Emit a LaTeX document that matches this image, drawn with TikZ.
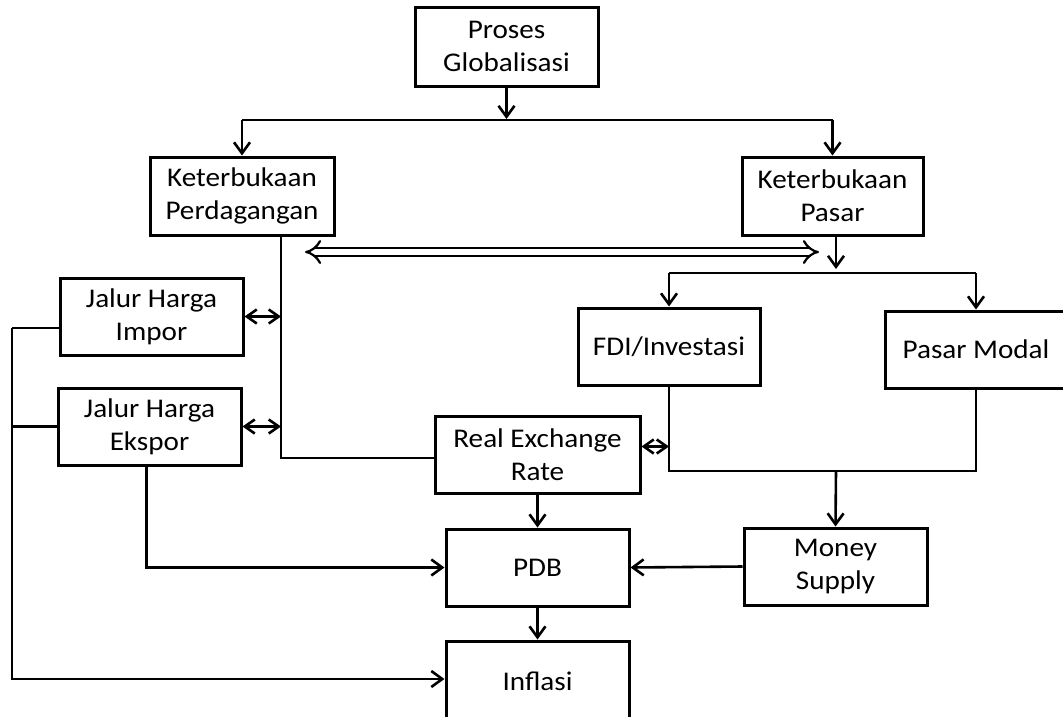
\documentclass[tikz,border=0pt]{standalone}
\usepackage{fontspec}
\setmainfont{Carlito}[FakeStretch=1.08]
\usetikzlibrary{arrows.meta}
\tikzset{
  box/.style={draw, line width=3pt, align=center, inner sep=0pt,
              font=\fontsize{27}{33}\selectfont},
  arr/.style={line width=2.6pt, -{Straight Barb[length=11pt,width=16pt]}},
  darr/.style={line width=2.6pt, {Straight Barb[length=10pt,width=14pt]}-{Straight Barb[length=10pt,width=14pt]}},
  ln/.style={line width=2.6pt},
  hollow/.style={double, double distance=6pt, line width=2.2pt, {Implies}-{Implies}}
}
\begin{document}
\begin{tikzpicture}[x=1pt,y=-1pt]
\useasboundingbox (0,0) rectangle (1063,716);
\node[box, minimum width=183pt, minimum height=79pt] (glob) at (506.5,46.5) {Proses\\Globalisasi};
\node[box, minimum width=184pt, minimum height=78pt] (kp) at (242,196) {Keterbukaan\\Perdagangan};
\node[box, minimum width=181pt, minimum height=78pt] (kpasar) at (832.5,196) {Keterbukaan\\Pasar};
\node[box, minimum width=183pt, minimum height=77pt] (impor) at (151.5,316.5) {Jalur Harga\\Impor};
\node[box, minimum width=183pt, minimum height=77pt] (ekspor) at (149.5,426.5) {Jalur Harga\\Ekspor};
\node[box, minimum width=205pt, minimum height=77pt] (rex) at (537.5,454.5) {Real Exchange\\Rate};
\node[box, minimum width=182pt, minimum height=77pt] (fdi) at (669,346.5) {FDI/Investasi};
\node[box, minimum width=182pt, minimum height=77pt] (modal) at (976,349.5) {Pasar Modal};
\node[box, minimum width=183pt, minimum height=77pt] (pdb) at (537.5,567.5) {PDB};
\node[box, minimum width=183pt, minimum height=77pt] (money) at (835.5,566.5) {Money\\Supply};
\node[box, minimum width=183pt, minimum height=80pt] (infl) at (537.5,681) {Inflasi};

% top split
\coordinate (s1) at (506.5,120);
\draw[arr] (glob.south) -- ([yshift=1pt]s1);
\draw[ln] (kp.north |- s1) -- (kpasar.north |- s1);
\draw[arr] (kp.north |- s1) -- (kp.north);
\draw[arr] (kpasar.north |- s1) -- (kpasar.north);

% trade openness line
\coordinate (t1) at (281,458);
\draw[ln] (kp.south -| t1) -- (t1) -- (rex.west |- t1);
\draw[darr] (impor.east) -- (impor.east -| t1);
\draw[darr] (ekspor.east) -- (ekspor.east -| t1);

% hollow double arrow
\coordinate (d1) at (305,252);
\coordinate (d2) at (819,252);
\draw[hollow] (d1) -- (d2);

% market openness split
\coordinate (s2) at (836,273);
\draw[arr] (kpasar.south -| s2) -- ([yshift=4pt]s2);
\draw[ln] (fdi.north |- s2) -- (modal.north |- s2);
\draw[arr] (fdi.north |- s2) -- (fdi.north);
\draw[arr] (modal.north |- s2) -- (modal.north);

% FDI / Pasar modal join
\coordinate (m1) at (836,471);
\draw[ln] (fdi.south) -- (fdi.south |- m1) -- (modal.south |- m1) -- (modal.south);
\draw[darr] ([yshift=8pt]rex.east) -- ([yshift=8pt]rex.east -| fdi.south);
\draw[arr] (m1) -- (money.north);

% to PDB and Inflasi
\draw[arr] (rex.south) -- (pdb.north);
\draw[arr] (money.west) -- (pdb.east);
\draw[arr] ([xshift=-3pt]ekspor.south) |- (pdb.west);
\draw[arr] (pdb.south) -- (infl.north);

% left feedback line
\coordinate (L) at (12,328);
\draw[ln] (impor.west |- L) -- (L);
\draw[ln] (ekspor.west) -- (ekspor.west -| L);
\draw[arr] (L) |- ([yshift=2pt]infl.west);
\end{tikzpicture}
\end{document}
